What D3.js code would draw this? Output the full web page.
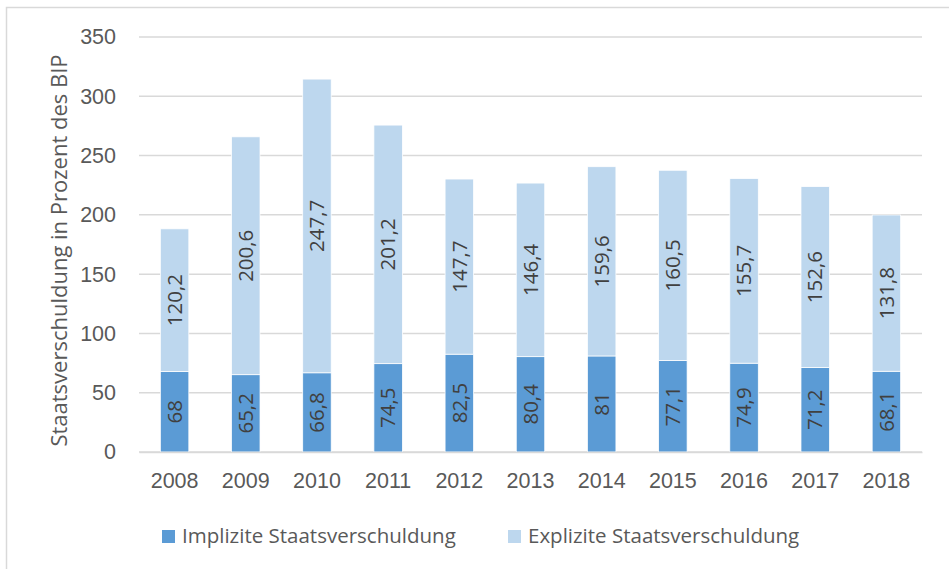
<!DOCTYPE html>
<html lang="de">
<head>
  <meta charset="UTF-8">
  <title>Staatsverschuldung</title>
  <script src="https://d3js.org/d3.v7.min.js"></script>
  <style>
    body { margin: 0; background: #fff; font-family: "Open Sans", "Noto Sans", sans-serif; }
    svg { display: block; }
    .tick text { fill: #595959; font-size: 21.5px; }
  </style>
</head>
<body>
<div id="chart"></div>
<script>
  // Daten
  const years = ["2008","2009","2010","2011","2012","2013","2014","2015","2016","2017","2018"];
  const implizit = [68, 65.2, 66.8, 74.5, 82.5, 80.4, 81, 77.1, 74.9, 71.2, 68.1];
  const explizit = [120.2, 200.6, 247.7, 201.2, 147.7, 146.4, 159.6, 160.5, 155.7, 152.6, 131.8];
  const seriesNames = ["Implizite Staatsverschuldung", "Explizite Staatsverschuldung"];
  const yTicks = [0, 50, 100, 150, 200, 250, 300, 350];

  const colors = ["#5B9BD5", "#BDD7EE"];
  const W = 949, H = 569;
  const margin = {top: 37, right: 27, bottom: 117, left: 139};
  const width = W - margin.left - margin.right,
        height = H - margin.top - margin.bottom;

  const root = d3.select("#chart").append("svg")
    .attr("width", W).attr("height", H);

  // Rahmen
  root.append("rect")
    .attr("x", 6.5).attr("y", 7.5)
    .attr("width", W + 20).attr("height", H + 20)
    .attr("fill", "none").attr("stroke", "#d9d9d9").attr("stroke-width", 1.5);

  const svg = root.append("g")
    .attr("transform", `translate(${margin.left},${margin.top})`);

  const x = d3.scaleBand().domain(years).range([0, width]).paddingInner(0.6).paddingOuter(0.3);
  const y = d3.scaleLinear().domain([0, 350]).range([height, 0]);

  // Gitternetz
  svg.append("g")
    .selectAll("line")
    .data(yTicks)
    .join("line")
    .attr("x1", 0).attr("x2", width)
    .attr("y1", d => y(d)).attr("y2", d => y(d))
    .attr("stroke", "#d9d9d9").attr("stroke-width", 1.5);

  const rows = years.map((yr, i) => ({year: yr, Implizit: implizit[i], Explizit: explizit[i]}));
  const stack = d3.stack().keys(["Implizit", "Explizit"])(rows);

  const layer = svg.selectAll(".layer")
    .data(stack)
    .join("g")
    .attr("fill", (d, i) => colors[i]);

  layer.selectAll("rect")
    .data(d => d)
    .join("rect")
    .attr("x", d => x(d.data.year))
    .attr("y", d => y(d[1]))
    .attr("width", x.bandwidth())
    .attr("height", d => y(d[0]) - y(d[1]))
    .attr("stroke", "#fff").attr("stroke-width", 0.75);

  const fmt = v => String(v).replace(".", ",");

  layer.selectAll("text")
    .data(d => d)
    .join("text")
    .attr("transform", d => {
      const cx = x(d.data.year) + x.bandwidth() / 2;
      const cy = (y(d[0]) + y(d[1])) / 2;
      return `translate(${cx},${cy}) rotate(-90)`;
    })
    .attr("text-anchor", "middle")
    .attr("dy", "0.35em")
    .attr("fill", "#404040")
    .style("font-size", "20.5px")
    .text(d => fmt(+(d[1] - d[0]).toFixed(1)));

  // Achsen
  const xAxis = svg.append("g")
    .attr("transform", `translate(0,${height})`)
    .call(d3.axisBottom(x).tickSize(0).tickPadding(21));
  xAxis.select(".domain").attr("stroke", "#d9d9d9").attr("stroke-width", 1.5);

  const yAxis = svg.append("g")
    .call(d3.axisLeft(y).tickValues(yTicks).tickSize(0).tickPadding(23));
  yAxis.select(".domain").remove();

  // Achsentitel
  svg.append("text")
    .attr("transform", "rotate(-90)")
    .attr("x", -height / 2 - 6)
    .attr("y", -72)
    .attr("text-anchor", "middle")
    .attr("fill", "#595959")
    .style("font-size", "22px")
    .text("Staatsverschuldung in Prozent des BIP");

  // Legende
  const legendX = [162, 508];
  const legend = root.append("g");
  seriesNames.forEach((name, i) => {
    legend.append("rect")
      .attr("x", legendX[i]).attr("y", 530)
      .attr("width", 13).attr("height", 13)
      .attr("fill", colors[i]);
    legend.append("text")
      .attr("x", legendX[i] + 20).attr("y", 536)
      .attr("dy", "0.35em")
      .attr("fill", "#595959")
      .style("font-size", "20.5px")
      .text(name);
  });
</script>
</body>
</html>
